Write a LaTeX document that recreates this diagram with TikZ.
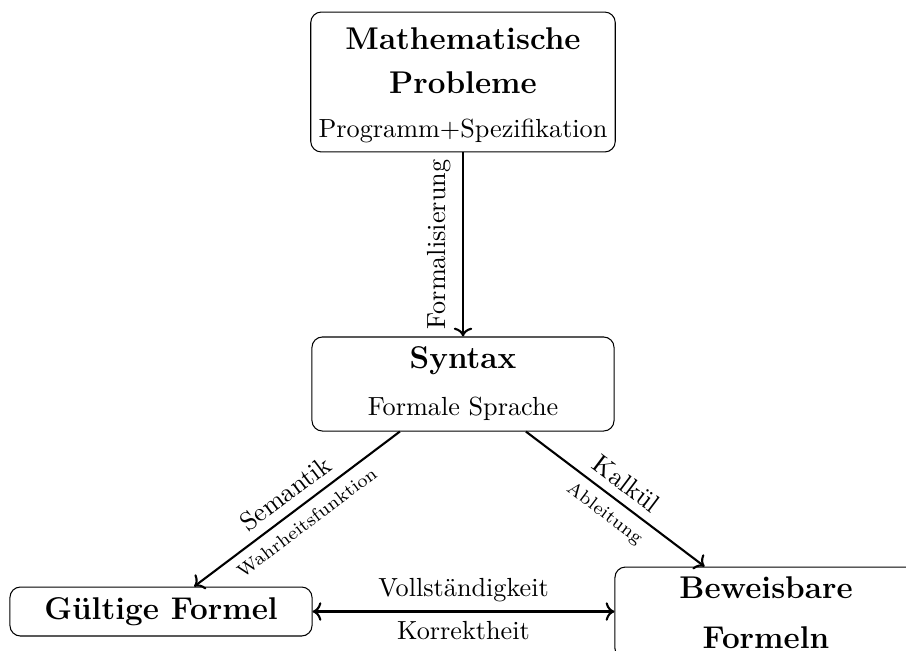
\documentclass[tikz,border=0pt]{standalone}
\usetikzlibrary{arrows.meta}
\begin{document}
\begin{tikzpicture}[x=0.38168pt, y=-0.38168pt,
  box/.style={draw, rounded corners=4pt, minimum width=115.3pt, align=center,
    inner sep=3pt, font=\large\bfseries},
  link/.style={thick, ->},
  both/.style={thick, <->},
  sublabel/.style={font=\scriptsize}]
  \useasboundingbox (0,0) rectangle (906,650);

  % the four boxes
  \node[box, minimum height=53.4pt] (prob) at (463,82)
    {\rule{0pt}{11pt}Mathematische\\[3pt] Probleme\\[2.8pt]
     {\normalsize\mdseries Programm+Spezifikation}};
  \node[box, minimum height=35.9pt] (syn) at (463,384)
    {Syntax\\[3.9pt] {\normalsize\mdseries Formale Sprache}};
  \node[box, minimum height=18.7pt] (valid) at (161,611.5)
    {Gültige Formel};
  \node[box, minimum height=35.1pt] (prov) at (766,613)
    {Beweisbare\\[5.1pt] Formeln};

  % connectors
  \draw[link] (prob) -- node[midway, rotate=90, anchor=south, yshift=1pt]
    {Formalisierung} (syn);
  \draw[link] (syn) -- node[midway, sloped, above] {Semantik}
    node[midway, sloped, below, sublabel] {Wahrheitsfunktion} (valid);
  \draw[link] (syn) -- node[midway, sloped, above] {Kalkül}
    node[midway, sloped, below, sublabel] {Ableitung} (prov);
  \draw[both] (valid.east) -- node[midway, above] {Vollständigkeit}
    node[midway, below] {Korrektheit} (valid.east -| prov.west);
\end{tikzpicture}
\end{document}
